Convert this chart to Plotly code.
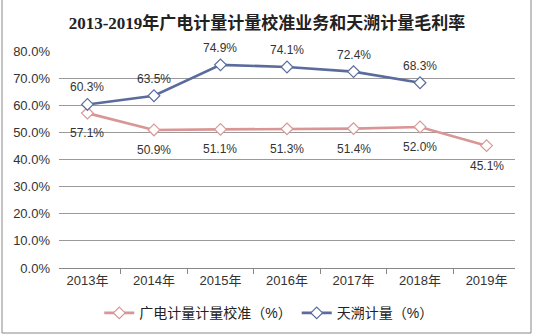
import plotly.graph_objects as go

years = ["2013年", "2014年", "2015年", "2016年", "2017年", "2018年", "2019年"]
guangdian = [57.1, 50.9, 51.1, 51.3, 51.4, 52.0, 45.1]
tianshuo = [60.3, 63.5, 74.9, 74.1, 72.4, 68.3, None]
y_ticks = [0, 10, 20, 30, 40, 50, 60, 70, 80]

red = "#D99694"
blue = "#5B6C9C"
font_main = "Liberation Sans, Noto Sans CJK SC, sans-serif"

fig = go.Figure()
for name, vals, color in [("广电计量计量校准（%）", guangdian, red),
                          ("天溯计量（%）", tianshuo, blue)]:
    fig.add_trace(go.Scatter(
        x=years, y=vals, name=name, mode="lines+markers",
        line=dict(color=color, width=2.6),
        marker=dict(symbol="diamond", size=9, color="white", line=dict(color=color, width=1.2)),
        cliponaxis=False,
    ))

# value labels: red series below the points, blue series above
annotations = []
for x, v in zip(years, guangdian):
    annotations.append(dict(x=x, y=v, text=f"{v:.1f}%", showarrow=False,
                            yshift=-20, font=dict(size=12, color="#333333")))
for x, v in zip(years, tianshuo):
    if v is not None:
        annotations.append(dict(x=x, y=v, text=f"{v:.1f}%", showarrow=False,
                                yshift=17, font=dict(size=12, color="#333333")))

fig.update_layout(
    width=534, height=336,
    margin=dict(l=59, r=19, t=51, b=68, autoexpand=False),
    paper_bgcolor="white", plot_bgcolor="white",
    font=dict(family=font_main, size=12, color="#333333"),
    title=dict(
        text="<b>2013-2019年广电计量计量校准业务和天溯计量毛利率</b>",
        x=0.5, xanchor="center", y=0.93, yanchor="middle",
        font=dict(family="Liberation Serif, Noto Sans CJK SC, serif", size=17, color="#222222"),
    ),
    showlegend=True,
    legend=dict(
        orientation="h", x=0.46, xanchor="center", y=-0.135, yanchor="top",
        font=dict(size=14, color="#222222"), traceorder="normal",
    ),
    annotations=annotations,
    shapes=[dict(type="rect", xref="paper", yref="paper",
                 x0=-57/456, x1=(534-59-3)/456, y0=-(68-3)/217, y1=(336-51-1)/217,
                 line=dict(color="#888888", width=1))],
)
fig.update_xaxes(
    type="category", showgrid=False, showline=True, linecolor="#888888", linewidth=1,
    ticks="outside", tickson="boundaries", ticklen=5, tickcolor="#888888",
    tickfont=dict(size=13, color="#333333"), automargin=False,
)
fig.update_yaxes(
    range=[0, 80], tickvals=y_ticks, ticktext=[f"{v:.1f}%" for v in y_ticks],
    showgrid=True, gridcolor="#9A9A9A", gridwidth=1, zeroline=False, showline=False,
    tickfont=dict(size=13, color="#333333"), ticks="", ticklabelstandoff=8, automargin=False,
)

fig.write_html("out.html")
